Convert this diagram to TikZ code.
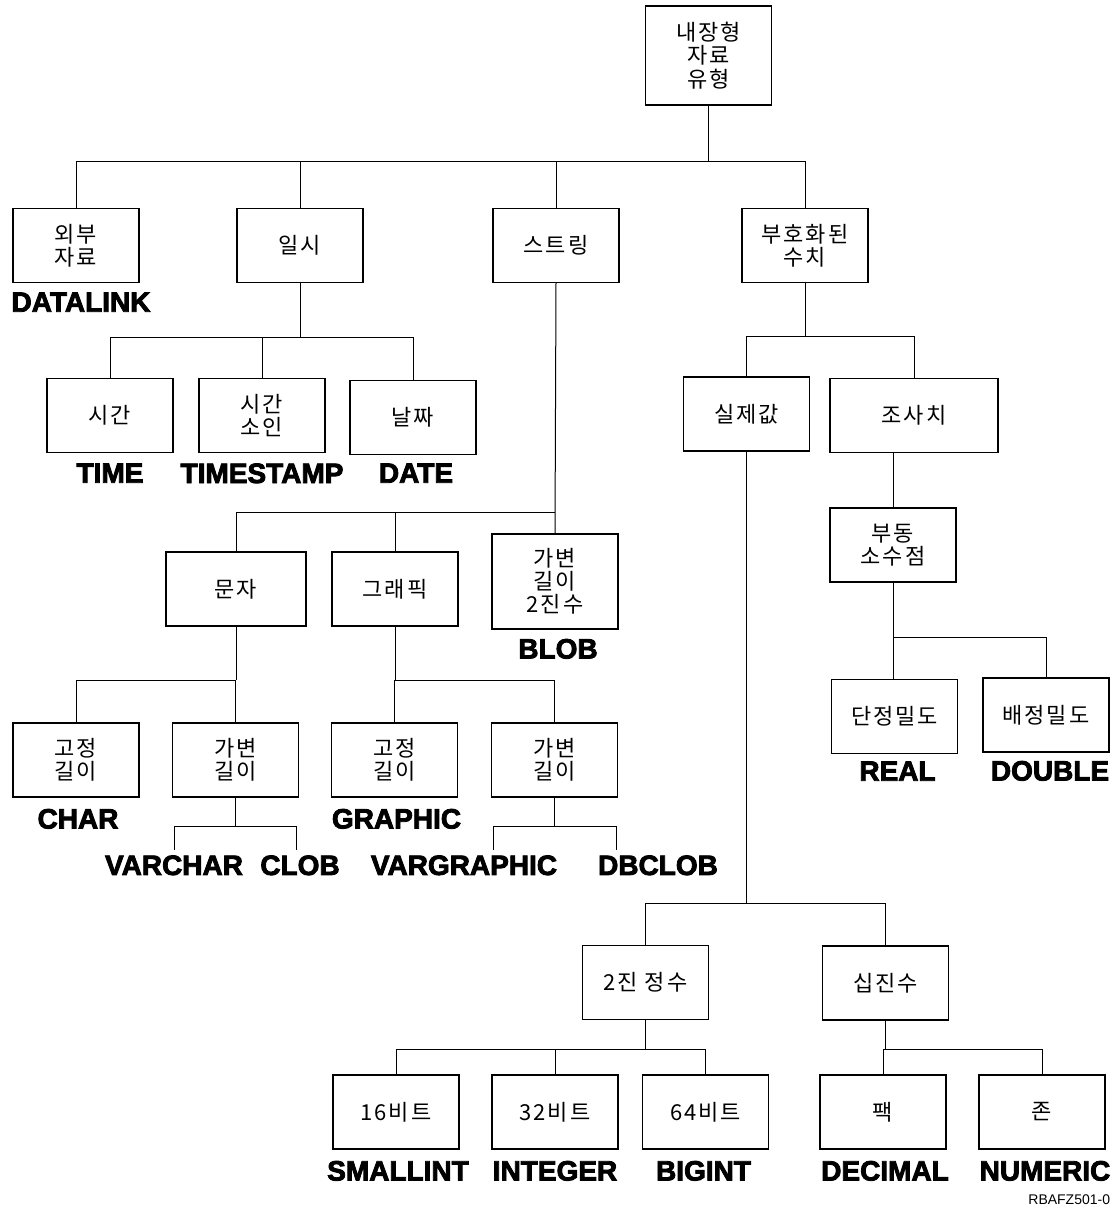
\documentclass[tikz,border=0pt]{standalone}
\usepackage{fontspec}
\setmainfont{Noto Sans CJK KR}[LetterSpace=9]
\newfontfamily\tipusfont{Liberation Sans}[BoldFeatures={FakeBold=3}]
\usepackage{tikz}
\usetikzlibrary{positioning}
\tikzset{
  doboz/.style={draw,line width=0.55pt,inner sep=2pt,align=center,minimum width=63pt,minimum height=37pt,
                font=\fontsize{11}{11.6}\selectfont},
  vonal/.style={line width=0.5pt},
  tipus/.style={inner sep=0pt,font=\tipusfont\bfseries\fontsize{14}{14}\selectfont},
  jelzo/.style={inner sep=0pt,font=\tipusfont\fontsize{7}{7}\selectfont},
}

\begin{document}
\begin{tikzpicture}[x=0.5pt,y=-0.5pt]
  \useasboundingbox (0,0) rectangle (1116,1207);
  % gyoker es elso szint
  \node[doboz,minimum height=49.5pt] (gyoker) at (708.5,55.5) {내장형\\자료\\유형};
  \node[doboz] (kulso) at (76,245.5) {외부\\자료};
  \node[doboz] (ilsi) at (300,245.5) {일시};
  \node[doboz] (streng) at (556,245.5) {스트링};
  \node[doboz] (szam) at (805,245.5) {부호화된\\수치};
  % datum es ido
  \node[doboz] (ido) at (110,415.5) {시간};
  \node[doboz] (belyeg) at (262,415.5) {시간\\소인};
  \node[doboz] (datum) at (413,417.5) {날짜};
  % sztringek
  \node[doboz,minimum width=70pt] (mun) at (236,589) {문자};
  \node[doboz] (graf) at (395,589) {그래픽};
  \node[doboz,minimum height=47.5pt] (blobd) at (555,581.5) {가변\\길이\\2진수};
  \node[doboz] (gc) at (76,760) {고정\\길이};
  \node[doboz] (vc) at (235.5,760) {가변\\길이};
  \node[doboz] (gg) at (394.5,760) {고정\\길이};
  \node[doboz] (vg) at (554.5,760) {가변\\길이};
  % szamok
  \node[doboz,line width=0.85pt] (silje) at (746.5,414) {실제값};
  \node[doboz,minimum width=84pt] (josa) at (914,415.5) {조사치};
  \node[doboz] (budong) at (893,545) {부동\\소수점};
  \node[doboz] (dan) at (894.5,716.5) {단정밀도};
  \node[doboz] (bae) at (1046,715) {배정밀도};
  \node[doboz] (bin) at (645.5,982.5) {2진 정수};
  \node[doboz] (dec) at (885.5,983) {십진수};
  \node[doboz] (b16) at (396,1112) {16비트};
  \node[doboz] (b32) at (555,1112) {32비트};
  \node[doboz] (b64) at (705.5,1112) {64비트};
  \node[doboz] (pak) at (883,1112) {팩};
  \node[doboz] (zon) at (1042,1112) {존};

  % tipusnevek
  \node[tipus,below=4.5pt of kulso,xshift=2.5pt] (tDatalink) {DATALINK};
  \node[tipus,below=5pt of ido] (tTime) {TIME};
  \node[tipus,below=5pt of belyeg] (tTimestamp) {TIMESTAMP};
  \node[tipus,below=4pt of datum,xshift=1.5pt] (tDate) {DATE};
  \node[tipus,below=4.5pt of blobd,xshift=1.5pt] (tBlob) {BLOB};
  \node[tipus,below=5.5pt of gc,xshift=1pt] (tChar) {CHAR};
  \node[tipus,below=5.5pt of gg,xshift=1pt] (tGraphic) {GRAPHIC};
  \node[tipus,below=3.5pt of dan,xshift=1.5pt] (tReal) {REAL};
  \node[tipus,below=4pt of bae,xshift=2pt] (tDouble) {DOUBLE};
  \node[tipus,below=5.5pt of b16,xshift=1pt] (tSmallint) {SMALLINT};
  \node[tipus,below=5.5pt of b32] (tInteger) {INTEGER};
  \node[tipus,below=5.5pt of b64,xshift=-1pt] (tBigint) {BIGINT};
  \node[tipus,below=5.5pt of pak,xshift=1pt] (tDecimal) {DECIMAL};
  \node[tipus,below=5.5pt of zon,xshift=1.5pt] (tNumeric) {NUMERIC};
  \coordinate (vcb) at (174,850);
  \coordinate (vcj) at (296,850);
  \coordinate (vgb) at (493,850);
  \coordinate (vgj) at (616,850);
  \node[tipus,below=2.5pt of vcb] (tVarchar) {VARCHAR};
  \node[tipus,below=2.5pt of vcj,xshift=2pt] (tClob) {CLOB};
  \node[tipus,below=2.5pt of vgb,xshift=-14.5pt] (tVargraphic) {VARGRAPHIC};
  \node[tipus,below=2.5pt of vgj,xshift=21pt] (tDbclob) {DBCLOB};
  \node[jelzo,anchor=base west] (kod) at (1028,1204) {RBAFZ501-0};

  % osszekotesek
  \draw[vonal] (gyoker.south) -- (gyoker.south |- 0,161);
  \draw[vonal] (kulso.north) -- (kulso.north |- 0,161) -- (szam.north |- 0,161) -- (szam.north);
  \foreach \n in {ilsi,streng} \draw[vonal] (\n.north) -- (\n.north |- 0,161);

  \draw[vonal] (ilsi.south) -- (ilsi.south |- 0,337);
  \draw[vonal] (ido.north) -- (ido.north |- 0,337) -- (datum.north |- 0,337) -- (datum.north);
  \draw[vonal] (belyeg.north) -- (belyeg.north |- 0,337);

  \draw[vonal] (streng.south) -- (blobd.north);
  \draw[vonal] (mun.north) -- (mun.north |- 0,512) -- (blobd.north |- 0,512);
  \draw[vonal] (graf.north) -- (graf.north |- 0,512);

  \draw[vonal] (mun.south) -- (mun.south |- 0,680);
  \draw[vonal] (gc.north) -- (gc.north |- 0,680) -- (vc.north |- 0,680) -- (vc.north);
  \draw[vonal] (graf.south) -- (graf.south |- 0,680);
  \draw[vonal] (gg.north) -- (gg.north |- 0,680) -- (vg.north |- 0,680) -- (vg.north);

  \draw[vonal] (vc.south) -- (vc.south |- 0,826);
  \draw[vonal] (vcb) -- (vcb |- 0,826) -- (vcj |- 0,826) -- (vcj);
  \draw[vonal] (vg.south) -- (vg.south |- 0,826);
  \draw[vonal] (vgb) -- (vgb |- 0,826) -- (vgj |- 0,826) -- (vgj);

  \draw[vonal] (szam.south) -- (szam.south |- 0,336);
  \draw[vonal] (silje.north) -- (silje.north |- 0,336) -- (josa.north |- 0,336) -- (josa.north);
  \draw[vonal] (budong.north) -- (budong.north |- josa.south);
  \draw[vonal] (budong.south) -- (budong.south |- dan.north);
  \draw[vonal] (budong.south |- 0,637) -- (bae.north |- 0,637) -- (bae.north);

  \draw[vonal] (silje.south) -- (silje.south |- 0,903);
  \draw[vonal] (bin.north) -- (bin.north |- 0,903) -- (dec.north |- 0,903) -- (dec.north);
  \draw[vonal] (bin.south) -- (bin.south |- 0,1049);
  \draw[vonal] (b16.north) -- (b16.north |- 0,1049) -- (b64.north |- 0,1049) -- (b64.north);
  \draw[vonal] (b32.north) -- (b32.north |- 0,1049);
  \draw[vonal] (dec.south) -- (dec.south |- 0,1049);
  \draw[vonal] (pak.north) -- (pak.north |- 0,1049) -- (zon.north |- 0,1049) -- (zon.north);
\end{tikzpicture}
\end{document}
